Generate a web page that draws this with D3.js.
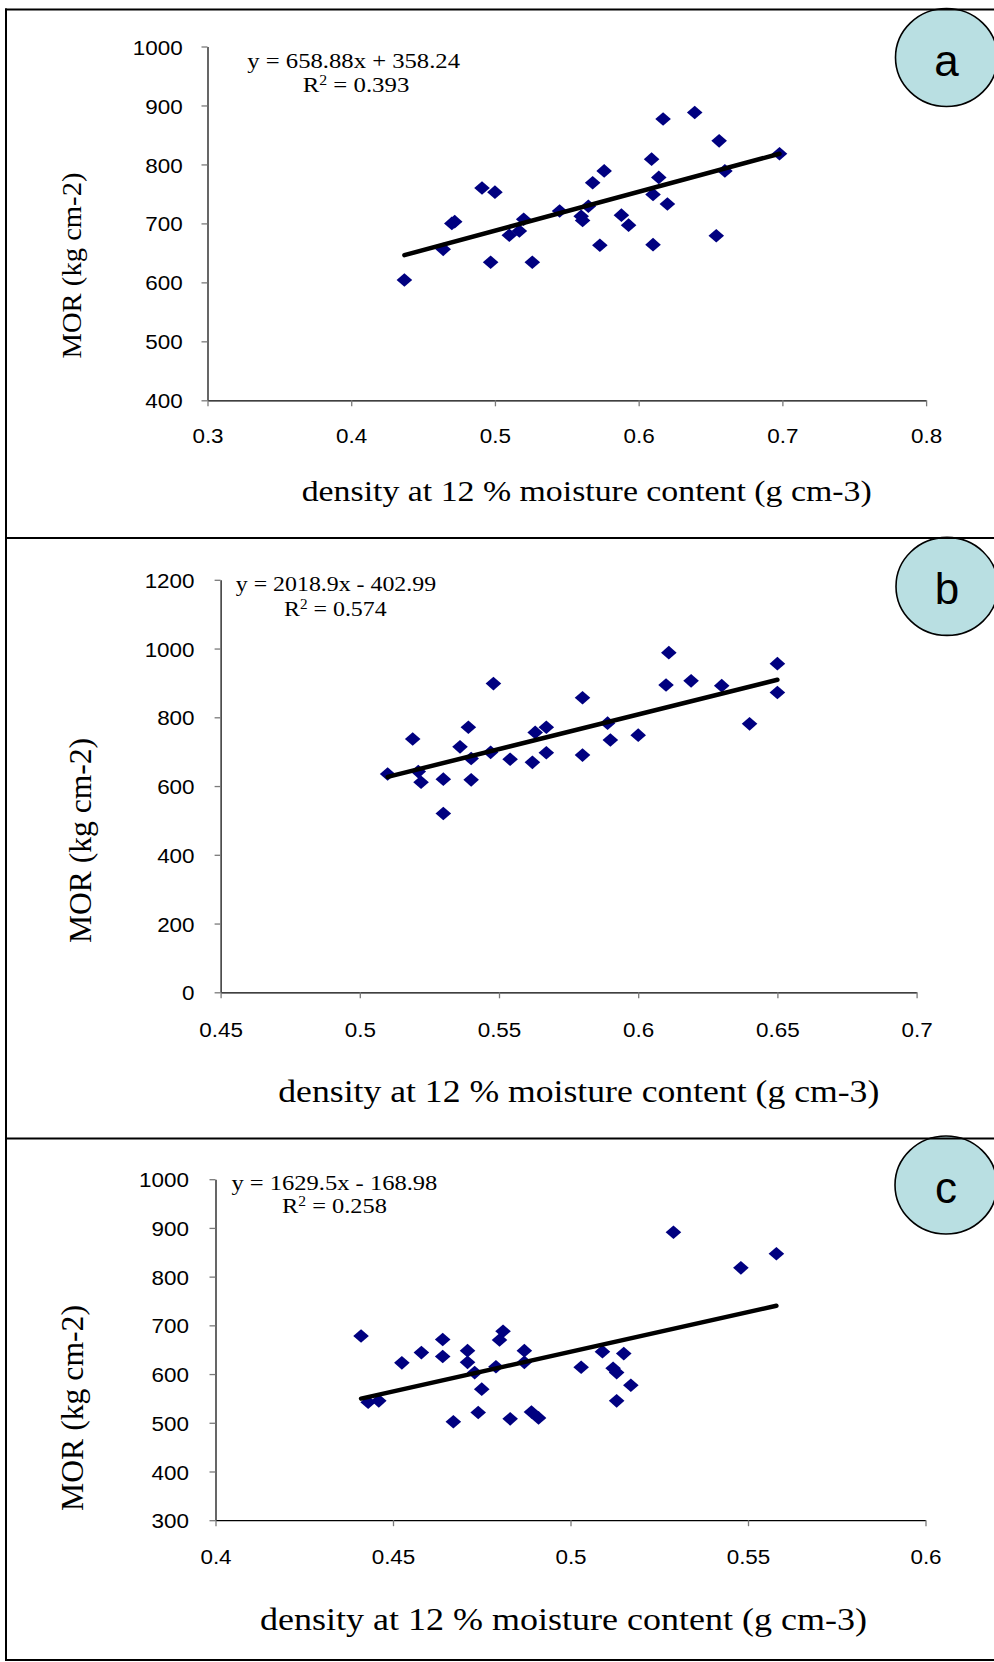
<!DOCTYPE html>
<html><head><meta charset="utf-8">
<script src="https://cdn.jsdelivr.net/npm/d3@7"></script>
<style>body{margin:0;background:#fff}svg{display:block}</style>
</head><body>
<svg id="chart" width="994" height="1662"></svg>
<script>
// ---------- DATA ----------
const densityA = [0.437,0.464,0.470,0.472,0.491,0.500,0.497,0.510,0.517,0.520,0.526,0.545,0.560,0.561,0.565,0.568,0.576,0.573,0.588,0.593,0.609,0.610,0.614,0.610,0.617,0.620,0.639,0.656,0.654,0.660,0.698];
const morA     = [604,656,700,703,760,753,634,680,687,707,634,721,712,705,729,769,789,663,714,697,809,749,778,664,877,733,888,840,679,789,818];
const densityB = [0.510,0.519,0.521,0.522,0.530,0.530,0.536,0.539,0.540,0.540,0.547,0.548,0.554,0.562,0.563,0.567,0.567,0.580,0.580,0.589,0.590,0.600,0.611,0.610,0.619,0.630,0.640,0.650,0.650];
const morB     = [635,737,642,611,620,520,714,771,680,618,698,898,678,669,756,771,697,857,690,783,734,748,988,894,906,892,781,956,872];
const densityC = [0.441,0.443,0.446,0.4525,0.458,0.464,0.464,0.467,0.471,0.471,0.473,0.475,0.474,0.479,0.480,0.481,0.483,0.487,0.487,0.489,0.491,0.503,0.509,0.512,0.513,0.513,0.515,0.517,0.529,0.548,0.558];
const morC     = [678,542,545,623,644,671,636,502,648,624,603,569,521,615,670,688,508,648,624,522,510,614,646,612,603,545,642,577,891,818,847];

const xTicksA = [0.3,0.4,0.5,0.6,0.7,0.8];
const yTicksA = [400,500,600,700,800,900,1000];
const xTicksB = [0.45,0.5,0.55,0.6,0.65,0.7];
const yTicksB = [0,200,400,600,800,1000,1200];
const xTicksC = [0.4,0.45,0.5,0.55,0.6];
const yTicksC = [300,400,500,600,700,800,900,1000];

const slopes     = [658.88, 2018.9, 1629.5];
const intercepts = [358.24, -402.99, -168.98];
const equations  = ["y = 658.88x + 358.24", "y = 2018.9x - 402.99", "y = 1629.5x - 168.98"];
const r2Values   = ["0.393", "0.574", "0.258"];
const panelLetters = ["a", "b", "c"];
const xTitle = "density at 12 % moisture content (g cm-3)";
const yTitle = "MOR (kg cm-2)";

// ---------- LAYOUT ----------
const panels = [
  {x:densityA, y:morA, xTicks:xTicksA, yTicks:yTicksA, xDom:[0.3,0.8], yDom:[400,1000],
   left:207.5, right:926.1, top:46.5, bottom:400.3, yLabOff:24.8, xLabOff:35.3,
   eqX:247.3, eqW:212.7, eqY:68, r2X:302.7, r2W:106.6, r2Y:91.5,
   xtX:301.7, xtW:570, xtY:501, xtF:30, ytX:81, ytY:265.5, ytW:186, ytF:28,
   cx:946.5, cy:57.5, letY:75.5},
  {x:densityB, y:morB, xTicks:xTicksB, yTicks:yTicksB, xDom:[0.45,0.7], yDom:[0,1200],
   left:220.6, right:916.6, top:579.8, bottom:992.3, yLabOff:26, xLabOff:37,
   eqX:235.8, eqW:200.3, eqY:591, r2X:284, r2W:102.7, r2Y:616,
   xtX:278.3, xtW:601, xtY:1102, xtF:32, ytX:91, ytY:840.5, ytW:205, ytF:31,
   cx:947, cy:586.4, letY:604},
  {x:densityC, y:morC, xTicks:xTicksC, yTicks:yTicksC, xDom:[0.4,0.6], yDom:[300,1000],
   left:215.5, right:925.5, top:1179.2, bottom:1520.2, yLabOff:26.5, xLabOff:36.7,
   eqX:231.4, eqW:206, eqY:1189.5, r2X:282, r2W:105, r2Y:1213,
   xtX:260, xtW:607, xtY:1630, xtF:32, ytX:83, ytY:1408, ytW:206, ytF:31,
   cx:946, cy:1185, letY:1203}
];

const svg = d3.select('#chart');
svg.append('rect').attr('width',994).attr('height',1662).attr('fill','#fff');

const sans = '"Liberation Sans", Arial, sans-serif';
const serif = '"Liberation Serif", "Times New Roman", serif';
const diamond = 'M0,-6.8L7.8,0L0,6.8L-7.8,0Z';

panels.forEach((p, i) => {
  const xs = d3.scaleLinear().domain(p.xDom).range([p.left, p.right]);
  const ys = d3.scaleLinear().domain(p.yDom).range([p.bottom, p.top]);
  const g = svg.append('g');

  const ya = g.append('g').attr('transform', `translate(${p.left},0)`)
    .call(d3.axisLeft(ys).tickValues(p.yTicks).tickFormat(d => String(d)).tickSize(6).tickSizeOuter(0));
  const xa = g.append('g').attr('transform', `translate(0,${p.bottom})`)
    .call(d3.axisBottom(xs).tickValues(p.xTicks).tickFormat(d => String(d)).tickSize(6).tickSizeOuter(0));
  [ya, xa].forEach(a => {
    a.select('.domain').attr('stroke', '#000').attr('stroke-width', 1.2);
    a.selectAll('.tick line').attr('stroke', '#7a7a7a').attr('stroke-width', 1.3);
    a.selectAll('.tick text').attr('font-family', sans).attr('font-size', 21).attr('fill', '#000');
  });
  ya.selectAll('.tick text').attr('x', 0).attr('dy', '0.36em')
    .attr('transform', `translate(${-p.yLabOff},0) scale(1.07,1)`);
  xa.selectAll('.tick text').attr('y', 0).attr('dy', '0.36em')
    .attr('transform', `translate(0,${p.xLabOff}) scale(1.07,1)`);

  // points
  g.selectAll('path.pt').data(d3.zip(p.x, p.y)).join('path')
    .attr('class', 'pt').attr('d', diamond)
    .attr('transform', d => `translate(${xs(d[0])},${ys(d[1])})`)
    .attr('fill', '#000080');

  // trend line
  const x0 = d3.min(p.x), x1 = d3.max(p.x);
  g.append('line')
    .attr('x1', xs(x0)).attr('y1', ys(slopes[i] * x0 + intercepts[i]))
    .attr('x2', xs(x1)).attr('y2', ys(slopes[i] * x1 + intercepts[i]))
    .attr('stroke', '#000').attr('stroke-width', 4.5).attr('stroke-linecap', 'round');

  // equation
  g.append('text').attr('x', p.eqX).attr('y', p.eqY)
    .attr('font-family', serif).attr('font-size', 22)
    .attr('textLength', p.eqW).attr('lengthAdjust', 'spacingAndGlyphs')
    .text(equations[i]);
  const r2 = g.append('text').attr('x', p.r2X).attr('y', p.r2Y)
    .attr('font-family', serif).attr('font-size', 22)
    .attr('textLength', p.r2W).attr('lengthAdjust', 'spacingAndGlyphs');
  r2.append('tspan').text('R');
  r2.append('tspan').attr('dy', -7).attr('font-size', 14).text('2');
  r2.append('tspan').attr('dy', 7).text(' = ' + r2Values[i]);

  // axis titles
  g.append('text').attr('x', p.xtX).attr('y', p.xtY)
    .attr('font-family', serif).attr('font-size', p.xtF)
    .attr('textLength', p.xtW).attr('lengthAdjust', 'spacingAndGlyphs')
    .text(xTitle);
  g.append('text').attr('transform', `translate(${p.ytX},${p.ytY}) rotate(-90)`)
    .attr('text-anchor', 'middle')
    .attr('font-family', serif).attr('font-size', p.ytF)
    .attr('textLength', p.ytW).attr('lengthAdjust', 'spacingAndGlyphs')
    .text(yTitle);

  // panel letter
  g.append('ellipse').attr('cx', p.cx).attr('cy', p.cy).attr('rx', 51).attr('ry', 49)
    .attr('fill', '#b9dfe2').attr('stroke', '#000').attr('stroke-width', 1.6);
  g.append('text').attr('x', p.cx).attr('y', p.letY).attr('text-anchor', 'middle')
    .attr('font-family', sans).attr('font-size', 44).text(panelLetters[i]);
});

// frame lines
const frame = svg.append('g').attr('stroke', '#000').attr('stroke-width', 2);
[9.5, 538, 1138.5, 1660].forEach(y => frame.append('line').attr('x1', 5).attr('x2', 994).attr('y1', y).attr('y2', y));
frame.append('line').attr('x1', 6).attr('x2', 6).attr('y1', 8.5).attr('y2', 1661);
</script>
</body></html>
